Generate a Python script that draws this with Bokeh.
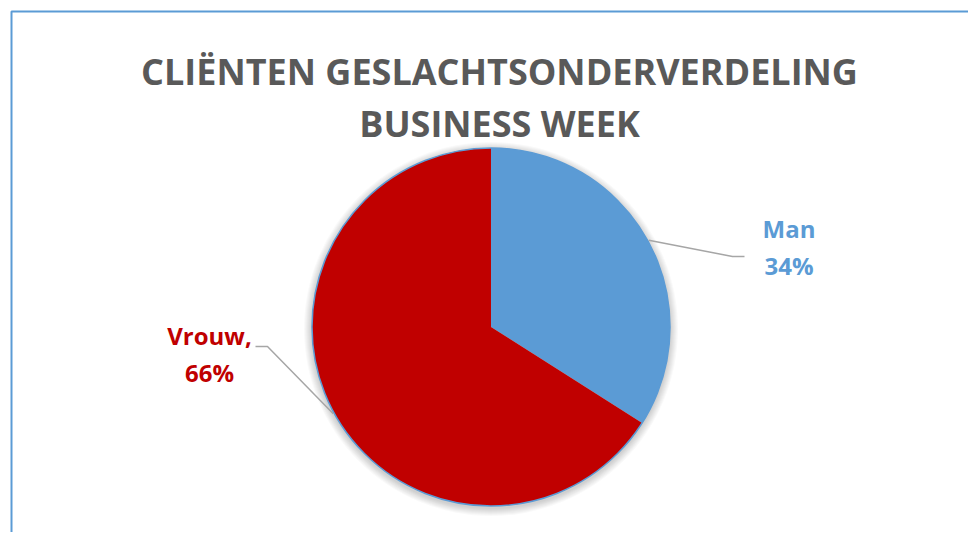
import math
import numpy as np
from bokeh.plotting import figure
from bokeh.models import ColumnDataSource, Range1d, BoxAnnotation
from bokeh.core.properties import value
from bokeh.embed import file_html
from bokeh.resources import INLINE

# ---------------- data ----------------
categories = ["Man", "Vrouw"]
percentages = [34, 66]
label_separators = ["", ","]
title_lines = ["CLIËNTEN GESLACHTSONDERVERDELING", "BUSINESS WEEK"]

# ---------------- style / layout ----------------
slice_colors = ["#5B9BD5", "#C00000"]
title_color = "#595959"
leader_color = "#A6A6A6"
border_color = "#5B9BD5"
FONT = "Open Sans"

W, H = 968, 532
CX, CY, R = 490.5, 213.5, 179.0
# label anchor (centre x, first-line baseline y), second-line offset
label_pos = [(788.5, 312.0), (209.0, 205.0)]
line_gap = 36.5
# leader elbow/end positions relative to label anchors
leader_offsets = [((-56.5, -28.0), (-44.5, -28.0)), ((58.0, -11.0), (46.0, -11.0))]

p = figure(width=W, height=H, output_backend="svg", toolbar_location=None,
           x_range=Range1d(0, W), y_range=Range1d(540 - H, 540), min_border=0,
           tools="")
p.axis.visible = False
p.grid.visible = False
p.outline_line_color = None
p.background_fill_color = "white"
p.border_fill_color = "white"

# border (left and top visible only)
p.add_layout(BoxAnnotation(left=11, top=529, right=5000, bottom=-5000,
                           fill_color=None, fill_alpha=0,
                           line_color=border_color, line_alpha=1.0,
                           line_width=2))

# angles: start at top, clockwise
vals = np.array(percentages, dtype=float)
frac = vals / vals.sum()
cum = np.concatenate([[0.0], np.cumsum(frac)])
start = math.pi / 2 - 2 * math.pi * cum[1:]
end = math.pi / 2 - 2 * math.pi * cum[:-1]
mid = (start + end) / 2

# soft shadow
for k in range(1, 9):
    p.circle(x=CX, y=CY - 2, radius=R + k, fill_color="#000000",
             fill_alpha=0.025, line_color=None)

src = ColumnDataSource(dict(start=start, end=end, color=slice_colors))
p.wedge(x=CX, y=CY, radius=R, start_angle="start", end_angle="end",
        fill_color="color", line_color=None, source=src)
p.circle(x=CX, y=CY, radius=R, fill_color=None, line_color=border_color,
         line_width=1.5)

# leader lines
for i in range(len(categories)):
    sx = CX + (R + 1) * math.cos(mid[i])
    sy = CY + (R + 1) * math.sin(mid[i])
    lx, ly = label_pos[i]
    (ex1, ey1), (ex2, ey2) = leader_offsets[i]
    p.line(x=[sx, lx + ex1, lx + ex2], y=[sy, ly + ey1, ly + ey2],
           line_color=leader_color, line_width=1.5)

# labels
l1 = ColumnDataSource(dict(
    x=[lp[0] for lp in label_pos],
    y=[lp[1] for lp in label_pos],
    text=[c + s for c, s in zip(categories, label_separators)],
    color=slice_colors))
l2 = ColumnDataSource(dict(
    x=[lp[0] for lp in label_pos],
    y=[lp[1] - line_gap for lp in label_pos],
    text=[f"{v}%" for v in percentages],
    color=slice_colors))
for s in (l1, l2):
    p.text(x="x", y="y", text="text", text_color="color", source=s,
           text_font=value(FONT), text_font_style="bold",
           text_font_size="24px", text_align="center",
           text_baseline="alphabetic")

# title
p.text(x=[499, 499], y=[469, 417], text=title_lines, text_color=title_color,
       text_font=value(FONT), text_font_style="bold", text_font_size="36px",
       text_align="center", text_baseline="alphabetic")

open("out.html", "w").write(file_html(p, INLINE))
